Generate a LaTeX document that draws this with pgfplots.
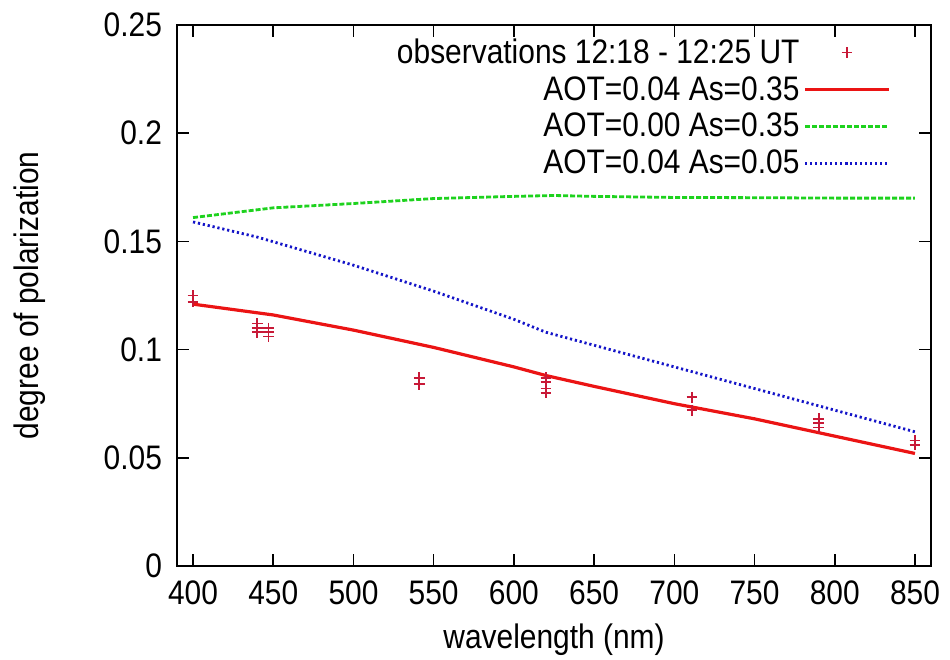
\documentclass[border=0pt]{standalone}
\usepackage{pgfplots}
\pgfplotsset{compat=1.18}
\usepackage{fontspec}
\setmainfont[FakeStretch=0.88]{Liberation Sans}
\definecolor{obs}{RGB}{200,25,55}
\definecolor{gline}{RGB}{30,210,30}
\definecolor{bline}{RGB}{20,20,200}
\definecolor{rline}{RGB}{235,20,20}
\begin{document}
\begin{tikzpicture}
\begin{axis}[
  name=ax,
  scale only axis,
  width=377pt, height=270.5pt,
  xmin=390, xmax=860, ymin=0, ymax=0.25,
  xtick={400,450,...,850},
  ytick={0,0.05,0.1,0.15,0.2,0.25},
  scaled y ticks=false,
  yticklabel style={/pgf/number format/fixed,/pgf/number format/precision=2, xshift=-4pt},
  xticklabel style={yshift=-4pt},
  /pgf/number format/assume math mode=true,
  tick align=inside,
  major tick length=6pt,
  axis line style={line width=1pt},
  every tick/.style={line width=0.8pt, black},
  tick label style={font=\fontsize{17}{19}\selectfont},
  label style={font=\fontsize{17}{19}\selectfont},
  xlabel={wavelength (nm)},
  ylabel={degree of polarization},
  xlabel style={at={(axis description cs:0.5,-0.137)}, anchor=center},
  ylabel style={at={(axis description cs:-0.195,0.5)}, anchor=center},
  legend plot pos=right,
  legend image code/.code={\draw[mark repeat=2,mark phase=2] plot coordinates {(0pt,0pt) (21pt,0pt) (42pt,0pt)};},
  legend style={draw=none, fill=none, at={(0.955,0.99)}, anchor=north east,
    font=\fontsize{17}{19}\selectfont, row sep=1pt,
    cells={anchor=east}},
  legend cell align=right,
]
\addplot[only marks, mark=+, mark size=2.7pt, color=obs, line width=0.8pt] coordinates {
(400,0.125) (400,0.122)
(440,0.112) (440,0.110) (440,0.108)
(447,0.110) (447,0.108) (447,0.106)
(541,0.087) (541,0.084)
(620,0.087) (620,0.085) (620,0.082) (620,0.080)
(711,0.078) (711,0.072)
(790,0.068) (790,0.066) (790,0.064)
(850,0.058) (850,0.056)
};
\addlegendentry{observations 12:18 - 12:25 UT}
\addplot[color=rline, line width=1.6pt] coordinates {
(400,0.121) (450,0.116) (500,0.109) (550,0.101) (600,0.092) (620,0.088) (650,0.083) (700,0.075) (750,0.068) (800,0.060) (850,0.052)
};
\addlegendentry{AOT=0.04 As=0.35}
\addplot[color=gline, line width=1.4pt, dash pattern=on 2.5pt off 1pt] coordinates {
(400,0.161) (450,0.1655) (500,0.1675) (550,0.1698) (600,0.1708) (625,0.1712) (650,0.1708) (700,0.1703) (750,0.1702) (800,0.1700) (850,0.1700)
};
\addlegendentry{AOT=0.00 As=0.35}
\addplot[color=bline, line width=1.4pt, dash pattern=on 1.1pt off 1.4pt] coordinates {
(400,0.159) (440,0.152) (500,0.139) (550,0.127) (600,0.114) (620,0.108) (650,0.102) (700,0.092) (750,0.082) (800,0.072) (850,0.062)
};
\addlegendentry{AOT=0.04 As=0.05}
\end{axis}
\pgfresetboundingbox
\path[use as bounding box] ([shift={(-88.5pt,-47pt)}]ax.south west) rectangle ([shift={(9.5pt,12.5pt)}]ax.north east);
\end{tikzpicture}
\end{document}
